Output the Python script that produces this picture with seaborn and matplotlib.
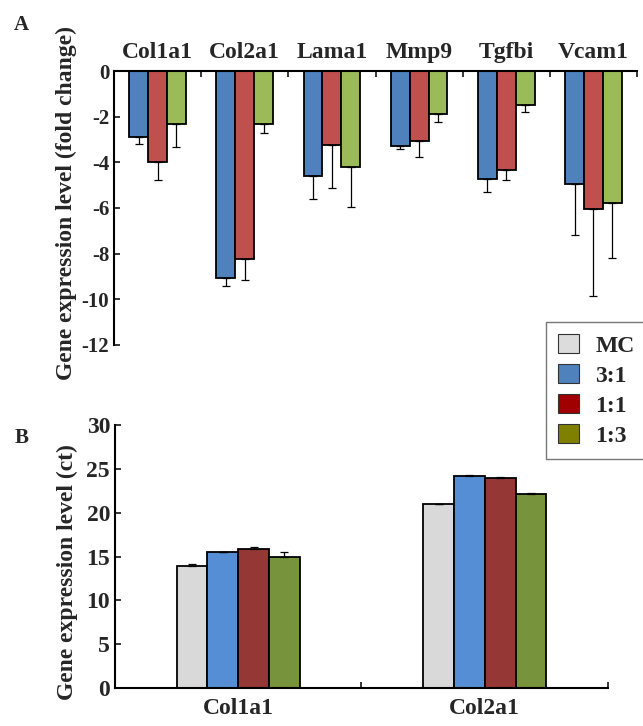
import matplotlib
matplotlib.use("Agg")
import matplotlib.pyplot as plt
import pandas as pd
import seaborn as sns
from matplotlib.patches import Patch

# panel A: fold change
genes_a = ["Col1a1", "Col2a1", "Lama1", "Mmp9", "Tgfbi", "Vcam1"]
ratios_a = ["3:1", "1:1", "1:3"]
fold_31 = [-2.88, -9.05, -4.60, -3.28, -4.73, -4.96]
fold_11 = [-3.98, -8.22, -3.25, -3.05, -4.35, -6.04]
fold_13 = [-2.32, -2.32, -4.19, -1.90, -1.50, -5.80]
err_31 = [0.31, 0.37, 1.02, 0.14, 0.58, 2.22]
err_11 = [0.78, 0.93, 1.89, 0.72, 0.44, 3.81]
err_13 = [1.02, 0.38, 1.75, 0.32, 0.31, 2.37]

# panel B: ct values
genes_b = ["Col1a1", "Col2a1"]
groups_b = ["MC", "3:1", "1:1", "1:3"]
ct_mc = [13.95, 20.98]
ct_31 = [15.47, 24.20]
ct_11 = [15.85, 23.98]
ct_13 = [14.97, 22.15]
ct_err_mc = [0.25, 0.05]
ct_err_31 = [0.05, 0.05]
ct_err_11 = [0.25, 0.12]
ct_err_13 = [0.50, 0.10]

sns.set_style("white")
plt.rcParams["font.family"] = ["Liberation Serif", "DejaVu Serif"]
plt.rcParams["font.weight"] = "bold"
plt.rcParams["axes.unicode_minus"] = False

df_a = pd.DataFrame({
    "gene": genes_a * 3,
    "ratio": [r for r in ratios_a for _ in genes_a],
    "value": fold_31 + fold_11 + fold_13,
    "err": err_31 + err_11 + err_13,
})
df_b = pd.DataFrame({
    "gene": genes_b * 4,
    "group": [g for g in groups_b for _ in genes_b],
    "value": ct_mc + ct_31 + ct_11 + ct_13,
    "err": ct_err_mc + ct_err_31 + ct_err_11 + ct_err_13,
})

fig = plt.figure(figsize=(6.43, 7.26), dpi=100)
ax_a = fig.add_axes([0.1773, 0.5248, 0.8134, 0.3774])
ax_b = fig.add_axes([0.1788, 0.0523, 0.7668, 0.3623])

sns.barplot(data=df_a, x="gene", y="value", hue="ratio", order=genes_a,
            hue_order=ratios_a, palette=["#4F81BD", "#C0504D", "#9BBB59"],
            saturation=1, width=0.65, errorbar=None, edgecolor="black",
            linewidth=1.3, legend=False, ax=ax_a)
for cont, r in zip(ax_a.containers, ratios_a):
    sub = df_a[df_a["ratio"] == r]
    xs = [b.get_x() + b.get_width() / 2 for b in cont]
    ax_a.errorbar(xs, sub["value"], yerr=[sub["err"], [0] * len(sub)],
                  fmt="none", ecolor="black", elinewidth=0.9, capsize=3,
                  capthick=0.9, zorder=1)

ax_a.set_ylim(-12, 0)
ax_a.set_xlim(-0.5, 5.5)
ax_a.set_yticks(range(-12, 1, 2))
ax_a.xaxis.tick_top()
ax_a.set_xticks(range(len(genes_a)))
ax_a.set_xticklabels(genes_a, fontsize=17, fontweight="bold")
ax_a.set_xticks([i + 0.5 for i in range(len(genes_a))], minor=True)
ax_a.tick_params(axis="x", which="major", length=0, pad=6)
ax_a.tick_params(axis="x", which="minor", direction="in", length=4, width=1.3, top=True)
ax_a.tick_params(axis="y", direction="in", length=4, width=1.3, left=True, labelsize=15)
for lab in ax_a.get_yticklabels():
    lab.set_fontweight("bold")
ax_a.set_xlabel("")
ax_a.set_ylabel("Gene expression level (fold change)", fontsize=17, fontweight="bold")
ax_a.yaxis.set_label_coords(-0.071, 0.52)
for s in ["bottom", "right"]:
    ax_a.spines[s].set_visible(False)
for s in ["top", "left"]:
    ax_a.spines[s].set_linewidth(1.5)
    ax_a.spines[s].set_color("black")

sns.barplot(data=df_b, x="gene", y="value", hue="group", order=genes_b,
            hue_order=groups_b, palette=["#D9D9D9", "#558ED5", "#953735", "#77933C"],
            saturation=1, width=0.5, errorbar=None, edgecolor="black",
            linewidth=1.3, legend=False, ax=ax_b)
for cont, g in zip(ax_b.containers, groups_b):
    sub = df_b[df_b["group"] == g]
    xs = [b.get_x() + b.get_width() / 2 for b in cont]
    ax_b.errorbar(xs, sub["value"], yerr=[[0] * len(sub), sub["err"]],
                  fmt="none", ecolor="black", elinewidth=0.9, capsize=3,
                  capthick=0.9, zorder=1)

ax_b.set_ylim(0, 30)
ax_b.set_xlim(-0.5, 1.5)
ax_b.set_yticks(range(0, 31, 5))
ax_b.set_xticks(range(len(genes_b)))
ax_b.set_xticklabels(genes_b, fontsize=17, fontweight="bold")
ax_b.set_xticks([0.5, 1.5], minor=True)
ax_b.tick_params(axis="x", which="major", length=0, pad=7)
ax_b.tick_params(axis="x", which="minor", direction="in", length=4, width=1.3, bottom=True)
ax_b.tick_params(axis="y", direction="in", length=4, width=1.3, left=True, labelsize=17)
for lab in ax_b.get_yticklabels():
    lab.set_fontweight("bold")
ax_b.set_xlabel("")
ax_b.set_ylabel("Gene expression level (ct)", fontsize=17, fontweight="bold")
ax_b.yaxis.set_label_coords(-0.074, 0.44)
for s in ["top", "right"]:
    ax_b.spines[s].set_visible(False)
for s in ["bottom", "left"]:
    ax_b.spines[s].set_linewidth(1.5)
    ax_b.spines[s].set_color("black")

handles = [Patch(facecolor=c, edgecolor="#333333", linewidth=0.8, label=l)
           for c, l in zip(["#DCDCDC", "#4F81BD", "#A00000", "#808000"], groups_b)]
fig.legend(handles=handles, loc="upper left", bbox_to_anchor=(0.849, 0.5565),
           borderaxespad=0, prop={"size": 17, "weight": "bold"}, frameon=True,
           fancybox=False, edgecolor="#555555", handlelength=0.9,
           handleheight=0.9, handletextpad=0.7, labelspacing=0.3, borderpad=0.5)

fig.text(0.022, 0.958, "A", fontsize=15, fontweight="bold")
fig.text(0.022, 0.39, "B", fontsize=15, fontweight="bold")

fig.savefig("out.png", dpi=100)
